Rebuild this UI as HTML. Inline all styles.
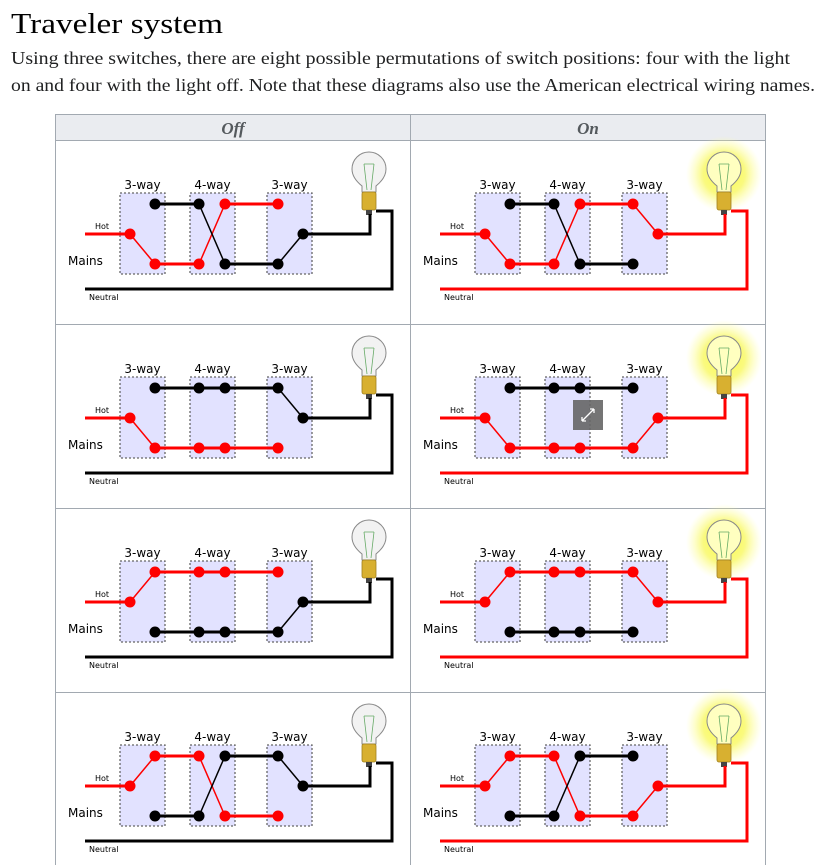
<!DOCTYPE html>
<html><head><meta charset="utf-8"><style>
html,body{margin:0;padding:0;background:#fff;width:828px;height:865px;overflow:hidden}
svg{display:block}
.sv{font-family:"DejaVu Sans","Liberation Sans",sans-serif}
</style></head><body>
<svg width="828" height="865" viewBox="0 0 828 865" xmlns="http://www.w3.org/2000/svg">
<defs>
<radialGradient id="glow"><stop offset="0" stop-color="#ffff40" stop-opacity="1"/><stop offset="0.55" stop-color="#f8f860" stop-opacity="0.8"/><stop offset="1" stop-color="#ffffa0" stop-opacity="0"/></radialGradient>
<g id="bulb">
<path d="M307,52 L307,46 Q297,38 297,29 A17,17 0 1 1 331,29 Q331,38 321,46 L321,52 Z" fill="#f2f2f2" stroke="#888" stroke-width="1"/>
<path d="M309,24 L312,50 M319,24 L316,50 M309,24 L319,24" stroke="#6a6" stroke-width="0.8" fill="none"/>
<rect x="307" y="52" width="14" height="18" rx="2" fill="#d8b030" stroke="#a08020" stroke-width="0.8"/>
<rect x="311" y="70" width="6" height="5" fill="#444"/>
</g>
<g id="bulbon">
<path d="M307,52 L307,46 Q297,38 297,29 A17,17 0 1 1 331,29 Q331,38 321,46 L321,52 Z" fill="#ffffc0" stroke="#888" stroke-width="1"/>
<path d="M309,24 L312,50 M319,24 L316,50 M309,24 L319,24" stroke="#6a6" stroke-width="0.8" fill="none"/>
<rect x="307" y="52" width="14" height="18" rx="2" fill="#d8b030" stroke="#a08020" stroke-width="0.8"/>
<rect x="311" y="70" width="6" height="5" fill="#444"/>
</g>
<g id="boxes" fill="#e2e2ff" stroke="#666" stroke-width="1.3" stroke-dasharray="2,2">
<rect x="65" y="53" width="45" height="81"/><rect x="135" y="53" width="45" height="81"/><rect x="212" y="53" width="45" height="81"/>
</g>
</defs>

<text x="11" y="33" font-family="'Liberation Serif',serif" font-size="29" fill="#000" textLength="212" lengthAdjust="spacingAndGlyphs">Traveler system</text>
<text x="11" y="64" font-family="'Liberation Serif',serif" font-size="17.5" fill="#202122" textLength="779" lengthAdjust="spacingAndGlyphs">Using three switches, there are eight possible permutations of switch positions: four with the light</text>
<text x="11" y="91" font-family="'Liberation Serif',serif" font-size="17.5" fill="#202122" textLength="804" lengthAdjust="spacingAndGlyphs">on and four with the light off. Note that these diagrams also use the American electrical wiring names.</text>

<!-- table -->
<rect x="55.5" y="114.5" width="710" height="26" fill="#eaecf0" stroke="#a2a9b1"/>
<line x1="410.5" y1="114" x2="410.5" y2="865" stroke="#a2a9b1"/>
<line x1="55.5" y1="140" x2="55.5" y2="865" stroke="#a2a9b1"/>
<line x1="765.5" y1="140" x2="765.5" y2="865" stroke="#a2a9b1"/>
<line x1="55" y1="324.5" x2="766" y2="324.5" stroke="#a2a9b1"/>
<line x1="55" y1="508.5" x2="766" y2="508.5" stroke="#a2a9b1"/>
<line x1="55" y1="692.5" x2="766" y2="692.5" stroke="#a2a9b1"/>
<text x="233" y="134" text-anchor="middle" font-family="'Liberation Serif',serif" font-style="italic" font-weight="bold" font-size="17" fill="#54595d">Off</text>
<text x="588" y="134" text-anchor="middle" font-family="'Liberation Serif',serif" font-style="italic" font-weight="bold" font-size="17" fill="#54595d">On</text>

<!-- ===== Row1 Off: A b, x, C b ===== -->
<g transform="translate(55,140)" class="sv">
<use href="#boxes"/>
<text x="87.5" y="49" font-size="12" text-anchor="middle">3-way</text><text x="157.5" y="49" font-size="12" text-anchor="middle">4-way</text><text x="234.5" y="49" font-size="12" text-anchor="middle">3-way</text>
<text x="40" y="89" font-size="8">Hot</text><text x="13" y="125" font-size="12">Mains</text><text x="34" y="160" font-size="8">Neutral</text>
<use href="#bulb"/>
<g fill="none" stroke-width="3">
<line x1="30" y1="94" x2="75" y2="94" stroke="#f00"/>
<line x1="100" y1="64" x2="144" y2="64" stroke="#000"/><line x1="100" y1="124" x2="144" y2="124" stroke="#f00"/>
<line x1="170" y1="64" x2="223" y2="64" stroke="#f00"/><line x1="170" y1="124" x2="223" y2="124" stroke="#000"/>
<polyline points="248,94 315,94 315,74" stroke="#000"/><polyline points="30,149 337,149 337,71 321,71" stroke="#000"/>
</g>
<g stroke-width="1.5"><line x1="75" y1="94" x2="100" y2="124" stroke="#f00"/><line x1="144" y1="124" x2="170" y2="64" stroke="#f00"/><line x1="144" y1="64" x2="170" y2="124" stroke="#000"/><line x1="248" y1="94" x2="223" y2="124" stroke="#000"/></g>
<g><circle cx="75" cy="94" r="5.5" fill="#f00"/><circle cx="100" cy="64" r="5.5" fill="#000"/><circle cx="100" cy="124" r="5.5" fill="#f00"/><circle cx="144" cy="64" r="5.5" fill="#000"/><circle cx="144" cy="124" r="5.5" fill="#f00"/><circle cx="170" cy="64" r="5.5" fill="#f00"/><circle cx="170" cy="124" r="5.5" fill="#000"/><circle cx="223" cy="64" r="5.5" fill="#f00"/><circle cx="223" cy="124" r="5.5" fill="#000"/><circle cx="248" cy="94" r="5.5" fill="#000"/></g>
</g>

<!-- ===== Row1 On: A b, x, C t ===== -->
<g transform="translate(410,140)" class="sv">
<circle cx="314" cy="34" r="38" fill="url(#glow)"/>
<use href="#boxes"/>
<text x="87.5" y="49" font-size="12" text-anchor="middle">3-way</text><text x="157.5" y="49" font-size="12" text-anchor="middle">4-way</text><text x="234.5" y="49" font-size="12" text-anchor="middle">3-way</text>
<text x="40" y="89" font-size="8">Hot</text><text x="13" y="125" font-size="12">Mains</text><text x="34" y="160" font-size="8">Neutral</text>
<use href="#bulbon"/>
<g fill="none" stroke-width="3">
<line x1="30" y1="94" x2="75" y2="94" stroke="#f00"/>
<line x1="100" y1="64" x2="144" y2="64" stroke="#000"/><line x1="100" y1="124" x2="144" y2="124" stroke="#f00"/>
<line x1="170" y1="64" x2="223" y2="64" stroke="#f00"/><line x1="170" y1="124" x2="223" y2="124" stroke="#000"/>
<polyline points="248,94 315,94 315,74" stroke="#f00"/><polyline points="30,149 337,149 337,71 321,71" stroke="#f00"/>
</g>
<g stroke-width="1.5"><line x1="75" y1="94" x2="100" y2="124" stroke="#f00"/><line x1="144" y1="124" x2="170" y2="64" stroke="#f00"/><line x1="144" y1="64" x2="170" y2="124" stroke="#000"/><line x1="248" y1="94" x2="223" y2="64" stroke="#f00"/></g>
<g><circle cx="75" cy="94" r="5.5" fill="#f00"/><circle cx="100" cy="64" r="5.5" fill="#000"/><circle cx="100" cy="124" r="5.5" fill="#f00"/><circle cx="144" cy="64" r="5.5" fill="#000"/><circle cx="144" cy="124" r="5.5" fill="#f00"/><circle cx="170" cy="64" r="5.5" fill="#f00"/><circle cx="170" cy="124" r="5.5" fill="#000"/><circle cx="223" cy="64" r="5.5" fill="#f00"/><circle cx="223" cy="124" r="5.5" fill="#000"/><circle cx="248" cy="94" r="5.5" fill="#f00"/></g>
</g>

<!-- ===== Row2 Off: A b, s, C t ===== -->
<g transform="translate(55,324)" class="sv">
<use href="#boxes"/>
<text x="87.5" y="49" font-size="12" text-anchor="middle">3-way</text><text x="157.5" y="49" font-size="12" text-anchor="middle">4-way</text><text x="234.5" y="49" font-size="12" text-anchor="middle">3-way</text>
<text x="40" y="89" font-size="8">Hot</text><text x="13" y="125" font-size="12">Mains</text><text x="34" y="160" font-size="8">Neutral</text>
<use href="#bulb"/>
<g fill="none" stroke-width="3">
<line x1="30" y1="94" x2="75" y2="94" stroke="#f00"/>
<line x1="100" y1="64" x2="223" y2="64" stroke="#000"/><line x1="100" y1="124" x2="223" y2="124" stroke="#f00"/>
<polyline points="248,94 315,94 315,74" stroke="#000"/><polyline points="30,149 337,149 337,71 321,71" stroke="#000"/>
</g>
<g stroke-width="1.5"><line x1="75" y1="94" x2="100" y2="124" stroke="#f00"/><line x1="248" y1="94" x2="223" y2="64" stroke="#000"/></g>
<g><circle cx="75" cy="94" r="5.5" fill="#f00"/><circle cx="100" cy="64" r="5.5" fill="#000"/><circle cx="100" cy="124" r="5.5" fill="#f00"/><circle cx="144" cy="64" r="5.5" fill="#000"/><circle cx="144" cy="124" r="5.5" fill="#f00"/><circle cx="170" cy="64" r="5.5" fill="#000"/><circle cx="170" cy="124" r="5.5" fill="#f00"/><circle cx="223" cy="64" r="5.5" fill="#000"/><circle cx="223" cy="124" r="5.5" fill="#f00"/><circle cx="248" cy="94" r="5.5" fill="#000"/></g>
</g>

<!-- ===== Row2 On: A b, s, C b ===== -->
<g transform="translate(410,324)" class="sv">
<circle cx="314" cy="34" r="38" fill="url(#glow)"/>
<use href="#boxes"/>
<text x="87.5" y="49" font-size="12" text-anchor="middle">3-way</text><text x="157.5" y="49" font-size="12" text-anchor="middle">4-way</text><text x="234.5" y="49" font-size="12" text-anchor="middle">3-way</text>
<text x="40" y="89" font-size="8">Hot</text><text x="13" y="125" font-size="12">Mains</text><text x="34" y="160" font-size="8">Neutral</text>
<use href="#bulbon"/>
<g fill="none" stroke-width="3">
<line x1="30" y1="94" x2="75" y2="94" stroke="#f00"/>
<line x1="100" y1="64" x2="223" y2="64" stroke="#000"/><line x1="100" y1="124" x2="223" y2="124" stroke="#f00"/>
<polyline points="248,94 315,94 315,74" stroke="#f00"/><polyline points="30,149 337,149 337,71 321,71" stroke="#f00"/>
</g>
<g stroke-width="1.5"><line x1="75" y1="94" x2="100" y2="124" stroke="#f00"/><line x1="248" y1="94" x2="223" y2="124" stroke="#f00"/></g>
<g><circle cx="75" cy="94" r="5.5" fill="#f00"/><circle cx="100" cy="64" r="5.5" fill="#000"/><circle cx="100" cy="124" r="5.5" fill="#f00"/><circle cx="144" cy="64" r="5.5" fill="#000"/><circle cx="144" cy="124" r="5.5" fill="#f00"/><circle cx="170" cy="64" r="5.5" fill="#000"/><circle cx="170" cy="124" r="5.5" fill="#f00"/><circle cx="223" cy="64" r="5.5" fill="#000"/><circle cx="223" cy="124" r="5.5" fill="#f00"/><circle cx="248" cy="94" r="5.5" fill="#f00"/></g>
<rect x="163" y="76" width="30" height="30" fill="#666" opacity="0.9"/>
<path d="M172,97 L184,85 M172,97 l0,-4 M172,97 l4,0 M184,85 l-4,0 M184,85 l0,4" stroke="#fff" stroke-width="1.3" fill="none"/>
</g>

<!-- ===== Row3 Off: A t, s, C b ===== -->
<g transform="translate(55,508)" class="sv">
<use href="#boxes"/>
<text x="87.5" y="49" font-size="12" text-anchor="middle">3-way</text><text x="157.5" y="49" font-size="12" text-anchor="middle">4-way</text><text x="234.5" y="49" font-size="12" text-anchor="middle">3-way</text>
<text x="40" y="89" font-size="8">Hot</text><text x="13" y="125" font-size="12">Mains</text><text x="34" y="160" font-size="8">Neutral</text>
<use href="#bulb"/>
<g fill="none" stroke-width="3">
<line x1="30" y1="94" x2="75" y2="94" stroke="#f00"/>
<line x1="100" y1="64" x2="223" y2="64" stroke="#f00"/><line x1="100" y1="124" x2="223" y2="124" stroke="#000"/>
<polyline points="248,94 315,94 315,74" stroke="#000"/><polyline points="30,149 337,149 337,71 321,71" stroke="#000"/>
</g>
<g stroke-width="1.5"><line x1="75" y1="94" x2="100" y2="64" stroke="#f00"/><line x1="248" y1="94" x2="223" y2="124" stroke="#000"/></g>
<g><circle cx="75" cy="94" r="5.5" fill="#f00"/><circle cx="100" cy="64" r="5.5" fill="#f00"/><circle cx="100" cy="124" r="5.5" fill="#000"/><circle cx="144" cy="64" r="5.5" fill="#f00"/><circle cx="144" cy="124" r="5.5" fill="#000"/><circle cx="170" cy="64" r="5.5" fill="#f00"/><circle cx="170" cy="124" r="5.5" fill="#000"/><circle cx="223" cy="64" r="5.5" fill="#f00"/><circle cx="223" cy="124" r="5.5" fill="#000"/><circle cx="248" cy="94" r="5.5" fill="#000"/></g>
</g>

<!-- ===== Row3 On: A t, s, C t ===== -->
<g transform="translate(410,508)" class="sv">
<circle cx="314" cy="34" r="38" fill="url(#glow)"/>
<use href="#boxes"/>
<text x="87.5" y="49" font-size="12" text-anchor="middle">3-way</text><text x="157.5" y="49" font-size="12" text-anchor="middle">4-way</text><text x="234.5" y="49" font-size="12" text-anchor="middle">3-way</text>
<text x="40" y="89" font-size="8">Hot</text><text x="13" y="125" font-size="12">Mains</text><text x="34" y="160" font-size="8">Neutral</text>
<use href="#bulbon"/>
<g fill="none" stroke-width="3">
<line x1="30" y1="94" x2="75" y2="94" stroke="#f00"/>
<line x1="100" y1="64" x2="223" y2="64" stroke="#f00"/><line x1="100" y1="124" x2="223" y2="124" stroke="#000"/>
<polyline points="248,94 315,94 315,74" stroke="#f00"/><polyline points="30,149 337,149 337,71 321,71" stroke="#f00"/>
</g>
<g stroke-width="1.5"><line x1="75" y1="94" x2="100" y2="64" stroke="#f00"/><line x1="248" y1="94" x2="223" y2="64" stroke="#f00"/></g>
<g><circle cx="75" cy="94" r="5.5" fill="#f00"/><circle cx="100" cy="64" r="5.5" fill="#f00"/><circle cx="100" cy="124" r="5.5" fill="#000"/><circle cx="144" cy="64" r="5.5" fill="#f00"/><circle cx="144" cy="124" r="5.5" fill="#000"/><circle cx="170" cy="64" r="5.5" fill="#f00"/><circle cx="170" cy="124" r="5.5" fill="#000"/><circle cx="223" cy="64" r="5.5" fill="#f00"/><circle cx="223" cy="124" r="5.5" fill="#000"/><circle cx="248" cy="94" r="5.5" fill="#f00"/></g>
</g>

<!-- ===== Row4 Off: A t, x, C t ===== -->
<g transform="translate(55,692)" class="sv">
<use href="#boxes"/>
<text x="87.5" y="49" font-size="12" text-anchor="middle">3-way</text><text x="157.5" y="49" font-size="12" text-anchor="middle">4-way</text><text x="234.5" y="49" font-size="12" text-anchor="middle">3-way</text>
<text x="40" y="89" font-size="8">Hot</text><text x="13" y="125" font-size="12">Mains</text><text x="34" y="160" font-size="8">Neutral</text>
<use href="#bulb"/>
<g fill="none" stroke-width="3">
<line x1="30" y1="94" x2="75" y2="94" stroke="#f00"/>
<line x1="100" y1="64" x2="144" y2="64" stroke="#f00"/><line x1="100" y1="124" x2="144" y2="124" stroke="#000"/>
<line x1="170" y1="64" x2="223" y2="64" stroke="#000"/><line x1="170" y1="124" x2="223" y2="124" stroke="#f00"/>
<polyline points="248,94 315,94 315,74" stroke="#000"/><polyline points="30,149 337,149 337,71 321,71" stroke="#000"/>
</g>
<g stroke-width="1.5"><line x1="75" y1="94" x2="100" y2="64" stroke="#f00"/><line x1="144" y1="64" x2="170" y2="124" stroke="#f00"/><line x1="144" y1="124" x2="170" y2="64" stroke="#000"/><line x1="248" y1="94" x2="223" y2="64" stroke="#000"/></g>
<g><circle cx="75" cy="94" r="5.5" fill="#f00"/><circle cx="100" cy="64" r="5.5" fill="#f00"/><circle cx="100" cy="124" r="5.5" fill="#000"/><circle cx="144" cy="64" r="5.5" fill="#f00"/><circle cx="144" cy="124" r="5.5" fill="#000"/><circle cx="170" cy="64" r="5.5" fill="#000"/><circle cx="170" cy="124" r="5.5" fill="#f00"/><circle cx="223" cy="64" r="5.5" fill="#000"/><circle cx="223" cy="124" r="5.5" fill="#f00"/><circle cx="248" cy="94" r="5.5" fill="#000"/></g>
</g>

<!-- ===== Row4 On: A t, x, C b ===== -->
<g transform="translate(410,692)" class="sv">
<circle cx="314" cy="34" r="38" fill="url(#glow)"/>
<use href="#boxes"/>
<text x="87.5" y="49" font-size="12" text-anchor="middle">3-way</text><text x="157.5" y="49" font-size="12" text-anchor="middle">4-way</text><text x="234.5" y="49" font-size="12" text-anchor="middle">3-way</text>
<text x="40" y="89" font-size="8">Hot</text><text x="13" y="125" font-size="12">Mains</text><text x="34" y="160" font-size="8">Neutral</text>
<use href="#bulbon"/>
<g fill="none" stroke-width="3">
<line x1="30" y1="94" x2="75" y2="94" stroke="#f00"/>
<line x1="100" y1="64" x2="144" y2="64" stroke="#f00"/><line x1="100" y1="124" x2="144" y2="124" stroke="#000"/>
<line x1="170" y1="64" x2="223" y2="64" stroke="#000"/><line x1="170" y1="124" x2="223" y2="124" stroke="#f00"/>
<polyline points="248,94 315,94 315,74" stroke="#f00"/><polyline points="30,149 337,149 337,71 321,71" stroke="#f00"/>
</g>
<g stroke-width="1.5"><line x1="75" y1="94" x2="100" y2="64" stroke="#f00"/><line x1="144" y1="64" x2="170" y2="124" stroke="#f00"/><line x1="144" y1="124" x2="170" y2="64" stroke="#000"/><line x1="248" y1="94" x2="223" y2="124" stroke="#f00"/></g>
<g><circle cx="75" cy="94" r="5.5" fill="#f00"/><circle cx="100" cy="64" r="5.5" fill="#f00"/><circle cx="100" cy="124" r="5.5" fill="#000"/><circle cx="144" cy="64" r="5.5" fill="#f00"/><circle cx="144" cy="124" r="5.5" fill="#000"/><circle cx="170" cy="64" r="5.5" fill="#000"/><circle cx="170" cy="124" r="5.5" fill="#f00"/><circle cx="223" cy="64" r="5.5" fill="#000"/><circle cx="223" cy="124" r="5.5" fill="#f00"/><circle cx="248" cy="94" r="5.5" fill="#f00"/></g>
</g>
</svg>
</body></html>
